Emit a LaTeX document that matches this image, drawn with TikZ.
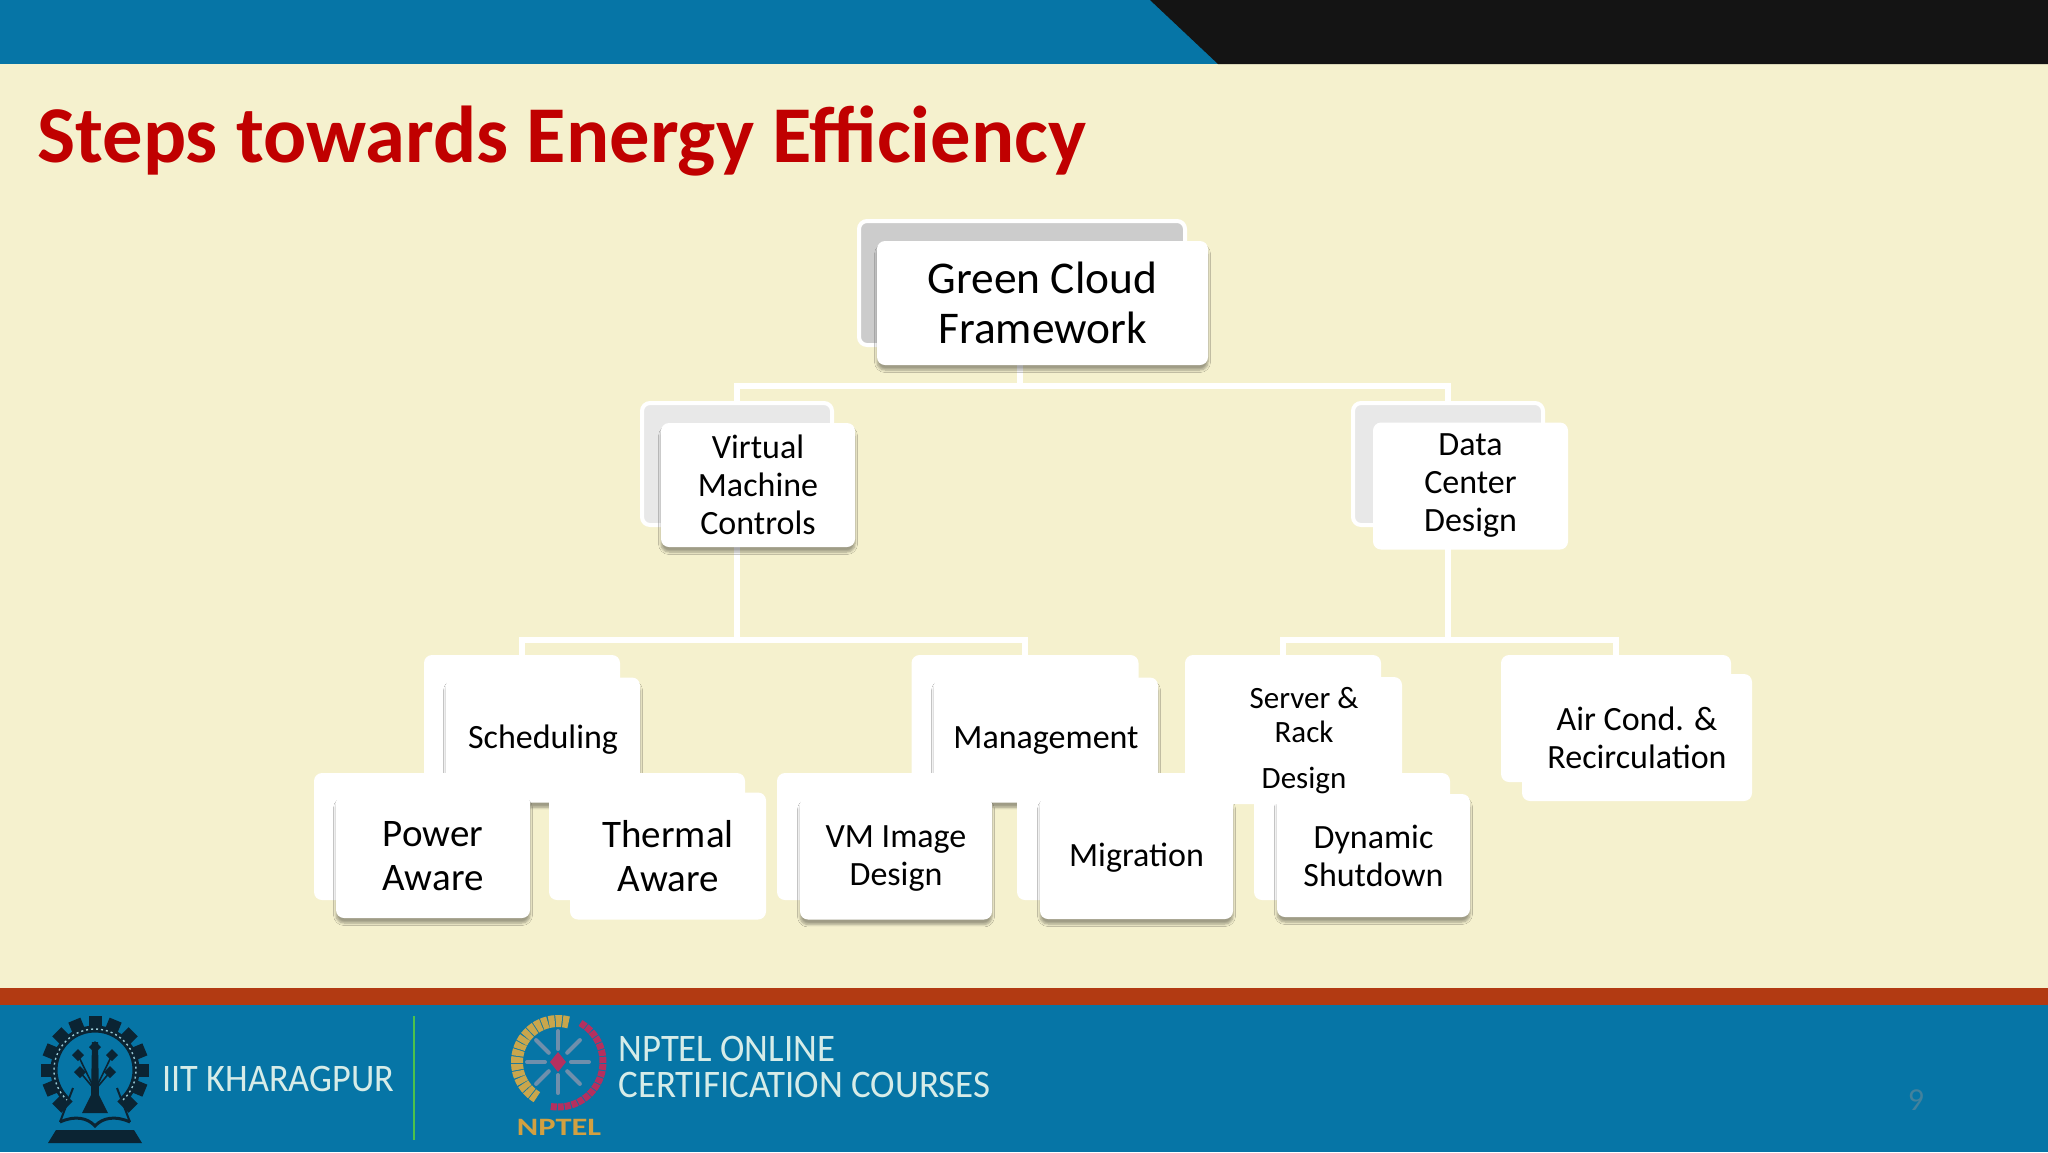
\documentclass[tikz,border=0pt]{standalone}
\usepackage{fontspec}
\setmainfont{Carlito}
\usetikzlibrary{shadows.blur}
\definecolor{slidebg}{HTML}{F5F1CE}
\definecolor{barblue}{HTML}{0675A6}
\definecolor{barred}{HTML}{B23A12}
\definecolor{titlered}{HTML}{C00000}
\definecolor{logodark}{HTML}{0B2433}
\definecolor{logotext}{HTML}{D6ECE8}
\definecolor{wheat}{HTML}{C9A64C}
\definecolor{crimson}{HTML}{B5305F}
\definecolor{spoke}{HTML}{6F8FAC}
\tikzset{
    backbox/.style={rounded corners=4pt,fill=white,inner sep=0pt},
    frontbox/.style={rounded corners=4pt,fill=white,inner sep=0pt,align=center,text=black},
    lifted/.style={blur shadow={shadow xshift=0pt,shadow yshift=-2.5pt,shadow blur radius=1.2pt,shadow blur steps=6,shadow opacity=35}},
    wire/.style={draw=white,line width=3pt},
    sizeL/.style={font=\fontsize{22.7}{25}\selectfont},
    sizeM/.style={font=\fontsize{19.5}{22}\selectfont},
    sizeS/.style={font=\fontsize{17}{19}\selectfont},
    sizeT/.style={font=\fontsize{15.5}{17}\selectfont},
    foot/.style={text=logotext,inner sep=0pt,anchor=west,font=\fontsize{19.5}{22}\selectfont},
}
\begin{document}
\begin{tikzpicture}[x=0.5pt,y=-0.5pt]
            \useasboundingbox (0,0) rectangle (2048,1152);
            % slide ground
            \fill[slidebg] (0,0) rectangle (2048,1152);
            \fill[barblue] (0,0) rectangle (2048,64);
            \fill[black!92] (1150,0) -- (1218,64) -- (2048,64) -- (2048,0) -- cycle;
            \fill[barred] (0,988) rectangle (2048,1005);
            \fill[barblue] (0,1005) rectangle (2048,1152);
            \node[anchor=base west,inner sep=0pt,text=titlered] (title) at (37,162)
                {\fontsize{40.3}{44}\selectfont\bfseries Steps towards Energy Efficiency};
            % back plates of the upper levels
            \node[backbox,draw=white,line width=2pt,fill=black!20!white,minimum width=163pt,minimum height=62pt] (rootback) at (1022,283) {};
            \node[backbox,draw=white,line width=2pt,fill=black!9!white,minimum width=95pt,minimum height=61pt] (vmback) at (737,464) {};
            \node[backbox,draw=white,line width=2pt,fill=black!9!white,minimum width=95pt,minimum height=61pt] (databack) at (1448,464) {};
            \foreach \name/\cx/\boxw in {schedback/522/98,mgmtback/1025/113.5,serverback/1283/98,airback/1616/115}
                \node[backbox,minimum width=\boxw pt,minimum height=63.5pt] (\name) at (\cx,718.5) {};
            % connectors
            \coordinate (rootbus) at (1020,386);
            \coordinate (vmbus) at (737,640);
            \coordinate (databus) at (1448,640);
            \draw[wire] (rootbus) -- (rootbus |- rootback.south);
            \draw[wire] (vmback.north) |- (rootbus);
            \draw[wire] (databack.north) |- (rootbus);
            \draw[wire] (vmback.south) -- (vmbus);
            \draw[wire] (databack.south) -- (databus);
            \draw[wire] (schedback.north) |- (vmbus);
            \draw[wire] (mgmtback.north) |- (vmbus);
            \draw[wire] (serverback.north) |- (databus);
            \draw[wire] (airback.north) |- (databus);
            % front plates
            \node[frontbox,lifted,sizeL,minimum width=165.5pt,minimum height=62pt] (root) at (1042.5,303) {Green Cloud\\Framework};
            \node[frontbox,lifted,sizeS,minimum width=97pt,minimum height=62pt] (vm) at (758,485) {Virtual\\Machine\\Controls};
            \node[frontbox,sizeS,minimum width=97.5pt,minimum height=63.5pt] (data) at (1470.5,486) {Data\\Center\\Design};
            \node[frontbox,lifted,sizeS,minimum width=97pt,minimum height=62.5pt] (sched) at (543,740) {Scheduling};
            \node[frontbox,lifted,sizeS,minimum width=112pt,minimum height=62.5pt] (mgmt) at (1046,740) {Management};
            \node[frontbox,sizeS,minimum width=115pt,minimum height=63.5pt] (air) at (1637,737.5) {Air Cond. \&\\Recirculation};
            % lowest row
            \foreach \name/\cx in {powerback/412,thermalback/647,imageback/875,migback/1115,dynback/1352}
                \node[backbox,minimum width=98pt,minimum height=63.5pt] (\name) at (\cx,836.5) {};
            \node[frontbox,lifted,sizeM,minimum width=97pt,minimum height=61.5pt] (power) at (433,856.5) {Power\\Aware};
            \node[frontbox,sizeM,minimum width=98pt,minimum height=63.5pt] (thermal) at (668,856) {Thermal\\Aware};
            \node[frontbox,lifted,sizeS,minimum width=96pt,minimum height=61.5pt] (image) at (896,858) {VM Image\\Design};
            \node[frontbox,lifted,sizeS,minimum width=96.5pt,minimum height=61.5pt] (mig) at (1136.5,857.5) {Migration};
            \node[frontbox,lifted,sizeS,minimum width=96.5pt,minimum height=61.5pt] (dyn) at (1373.5,855.5) {Dynamic\\Shutdown};
            \node[frontbox,sizeT,minimum width=98pt,minimum height=63.5pt] (server) at (1304,740.5) {Server \&\\Rack\\[6pt]Design};
            % IIT emblem
            \coordinate (gearc) at (95,1070);
            \foreach \a in {-135,-112.5,...,135}
                \fill[logodark,rotate around={\a:(gearc)}] (88.5,1016) rectangle (101.5,1032);
            \draw[logodark,line width=3.5pt] (gearc) ++(-47:20.5pt) arc [start angle=-47,end angle=227,radius=20.5pt];
            \draw[logotext!70!barblue,line width=.7pt,dash pattern=on 1pt off 1.5pt] (gearc) ++(-47:20.5pt) arc [start angle=-47,end angle=227,radius=20.5pt];
            \foreach \tx/\ty in {95/1047,78/1055,112/1055,80/1072,110/1072} {
                \fill[logodark] (\tx-6,\ty) -- (\tx,\ty-6) -- (\tx+6,\ty) -- (\tx,\ty+6) -- cycle;
                \draw[logodark,line width=.8pt] (95,1090) -- (\tx,\ty);
            }
            \fill[logodark] (92,1042) -- (98,1042) -- (99,1095) -- (108,1113) -- (82,1113) -- (91,1095) -- cycle;
            \draw[logodark,line width=1pt] (73,1088) -- (60,1122) (117,1088) -- (130,1122);
            \draw[logodark,line width=1.5pt] (60,1122) .. controls (75,1115) and (88,1118) .. (95,1126) .. controls (102,1118) and (115,1115) .. (130,1122);
            \fill[logodark] (56,1130) -- (134,1130) -- (142,1143) -- (48,1143) -- cycle;
            \node[foot] (iit) at (162,1079) {\scalebox{.93}[1]{IIT KHARAGPUR}};
            \coordinate (sepa) at (414,1016);
            \coordinate (sepb) at (414,1140);
            \draw[green!65!black!70!white,line width=1pt] (sepa) -- (sepb);
            % NPTEL emblem
            \coordinate (nptelc) at (558,1062);
            \draw[wheat,line width=6pt,dash pattern=on 3pt off .5pt] (nptelc) ++(75:20.5pt) arc [start angle=75,end angle=239,radius=20.5pt];
            \draw[crimson,line width=3.5pt,dash pattern=on 3pt off .5pt] (nptelc) ++(60:22.5pt) arc [start angle=60,end angle=-100,radius=22.5pt];
            \foreach \a in {0,45,...,315}
                \draw[spoke,line width=2pt,line cap=round] (nptelc) ++(\a:6.5pt) -- ++(\a:9pt);
            \fill[crimson] (550,1062) -- (558,1052) -- (566,1062) -- (558,1072) -- cycle;
            \node[anchor=center,inner sep=0pt,text=wheat!85!orange,font=\fontsize{12.5}{14}\selectfont\bfseries] (nptel) at (559,1127) {\scalebox{1.3}[1]{NPTEL}};
            \node[foot] (online) at (618,1049) {\scalebox{.943}[1]{NPTEL ONLINE}};
            \node[foot] (courses) at (618,1085) {\scalebox{.947}[1]{CERTIFICATION COURSES}};
            \node[inner sep=0pt,text=black!25!barblue!75!white,font=\fontsize{16}{18}\selectfont] (pageno) at (1916,1100) {9};
\end{tikzpicture}
\end{document}
